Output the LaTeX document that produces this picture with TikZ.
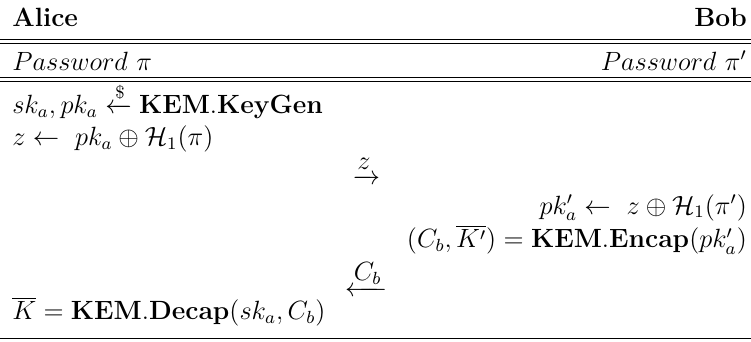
\documentclass[tikz,border=0pt,12pt]{standalone}
\usepackage{amsmath}
\begin{document}
\begin{tikzpicture}[lcell/.style={inner sep=0pt, anchor=base west},
                    rcell/.style={inner sep=0pt, anchor=base east},
                    msg/.style={inner sep=0pt, anchor=base}]
  \useasboundingbox (0,0) rectangle (12.0,5.45);
  % parties
  \node[lcell] (alice) at (0.19,5.02) {\textbf{Alice}};
  \node[rcell] (bob) at (11.94,5.02) {\textbf{Bob}};
  \draw (0,4.82) -- (12,4.82);
  \draw (0,4.75) -- (12,4.75);
  % passwords
  \node[lcell] (pwa) at (0.19,4.33) {$Password~\pi$};
  \node[rcell] (pwb) at (11.94,4.33) {$Password~\pi'$};
  \draw (0,4.22) -- (12,4.22);
  \draw (0,4.15) -- (12,4.15);
  % Alice, first flow
  \node[lcell] (keygen) at (0.19,3.63) {$sk_a, pk_a \xleftarrow{\$} \mathbf{KEM}.\mathbf{KeyGen}$};
  \node[lcell] (zval) at (0.19,3.13) {$z \leftarrow\ pk_a \oplus \mathcal{H}_1(\pi)$};
  \node[msg] (zmsg) at (5.85,2.50) {$\xrightarrow{\textstyle z}$};
  % Bob
  \node[rcell] (pkb) at (11.94,2.03) {$pk'_a \leftarrow\ z \oplus \mathcal{H}_1(\pi')$};
  \node[rcell] (encap) at (11.94,1.49) {$(C_b, \overline{K'}) = \mathbf{KEM}.\mathbf{Encap}(pk'_a)$};
  \node[msg] (cmsg) at (5.85,0.71) {$\xleftarrow{\textstyle C_b}$};
  % Alice, key
  \node[lcell] (decap) at (0.19,0.34) {$\overline{K} = \mathbf{KEM}.\mathbf{Decap}(sk_a, C_b)$};
  \draw (0,0.05) -- (12,0.05);
\end{tikzpicture}
\end{document}
